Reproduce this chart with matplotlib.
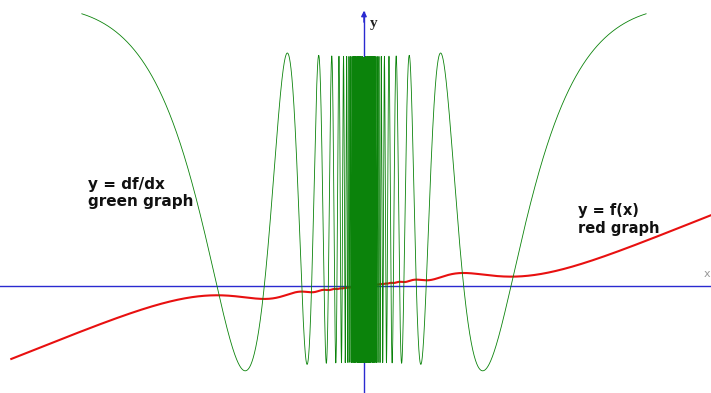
import numpy as np
import matplotlib
matplotlib.use("Agg")
import matplotlib.pyplot as plt

# Function shown: f(x) = x + 2 x^2 sin(1/x) (red), f'(x) = 1 + 4x sin(1/x) - 2 cos(1/x) (green)
lin_coef = 1.0
quad_coef = 2.0
red_domain = [-0.5, 0.5]
green_domain = [-0.4, 0.4]
x_view = [-0.516, 0.492]
y_view = [-1.40, 3.74]
labels_green = "y = df/dx\ngreen graph"
labels_red = "y = f(x)\nred graph"
axis_labels = ["x", "y"]

def f(x):
    with np.errstate(divide="ignore", invalid="ignore"):
        out = lin_coef * x + quad_coef * x**2 * np.sin(1.0 / x)
    return np.where(x == 0, 0.0, out)

def df(x):
    with np.errstate(divide="ignore", invalid="ignore"):
        out = lin_coef + 2 * quad_coef * x * np.sin(1.0 / x) - quad_coef * np.cos(1.0 / x)
    return out

fig = plt.figure(figsize=(7.11, 3.93), dpi=100)
ax = fig.add_axes([0, 0, 1, 1])
ax.set_xlim(*x_view)
ax.set_ylim(*y_view)
ax.axis("off")

# axes
blue = "#2a2ad0"
ax.axhline(0, color=blue, lw=1.0, zorder=1)
ax.plot([0, 0], [y_view[0], 3.58], color=blue, lw=1.0, zorder=1)
ax.annotate("", xy=(0, 3.60), xytext=(0, 3.45),
            arrowprops=dict(arrowstyle="-|>", color=blue, lw=1.0,
                            mutation_scale=8, shrinkA=0, shrinkB=0), zorder=1)
ax.text(0.008, 3.43, axis_labels[1], fontsize=11, family="Liberation Serif",
        fontweight="bold", color="#222222", va="center", ha="left")
ax.text(0.491, 0.15, axis_labels[0], fontsize=8, family="DejaVu Sans",
        color="#999999", va="center", ha="right")

# red graph
xr = np.linspace(red_domain[0], red_domain[1], 4001)
ax.plot(xr, f(xr), color="#e81010", lw=1.5, zorder=2)

# green graph
xg = np.linspace(green_domain[0], green_domain[1], 40001)
xg = xg[xg != 0]
ax.plot(xg, df(xg), color="#0b830b", lw=0.6, zorder=3)

ax.text(-0.391, 1.43, labels_green, fontsize=11, family="DejaVu Sans",
        fontweight="bold", color="#111111", va="top", ha="left", linespacing=1.2)
ax.text(0.303, 1.09, labels_red, fontsize=10.5, family="DejaVu Sans",
        fontweight="bold", color="#111111", va="top", ha="left", linespacing=1.25)

fig.savefig("out.png", dpi=100)
